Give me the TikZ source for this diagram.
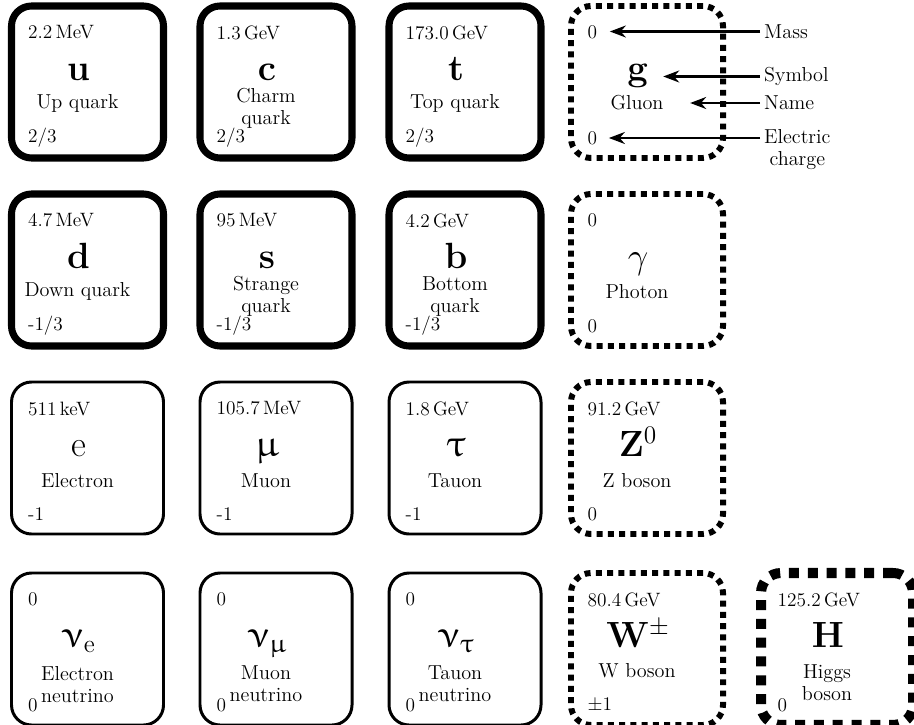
\documentclass[tikz,border=0pt]{standalone}
\usepackage{upgreek}
\usetikzlibrary{calc}
\usetikzlibrary{arrows.meta}

\begin{document}
\begin{tikzpicture}[thick] %% tikz
		\tikzstyle{quark}=[draw,rounded corners=0.4cm,line width=4pt,minimum size=3.04cm]
		\tikzstyle{lepton}=[draw,rounded corners=0.4cm,line width=1.7pt,minimum size=3.04cm]
		\tikzstyle{boson}=[draw,rounded corners=0.4cm,line width=3.4pt,dash pattern=on 3.4pt off 3pt,minimum size=3.04cm]
		\tikzstyle{higgs}=[draw,rounded corners=0.4cm,line width=5.7pt,dash pattern=on 5.7pt off 5pt,minimum size=3.04cm]
		\tikzstyle{mass}=[anchor=west,inner sep=0pt,font=\fontsize{11}{13}\selectfont]
		\tikzstyle{sym}=[anchor=base,inner sep=0pt,font=\fontsize{21.5}{26}\selectfont]
		\tikzstyle{pname}=[anchor=center,inner sep=0pt,align=center,font=\fontsize{11.5}{12.5}\selectfont]
		\tikzstyle{charge}=[anchor=west,inner sep=0pt,font=\fontsize{11}{13}\selectfont]
		\tikzstyle{note}=[anchor=west,inner sep=2pt,align=center,font=\fontsize{11.5}{12.5}\selectfont]
		\tikzstyle{pointer}=[-{Stealth[length=3.2mm,width=2.4mm]},line width=1.2pt]
		\useasboundingbox (0,0) rectangle (18.28,-14.5);
		%% particle boxes
		\foreach \n/\x/\y/\kind/\m/\s/\l/\ny/\q in {
			u/1.75/-1.64/quark/{2.2\,MeV}/{$\mathbf{u}$}/{Up quark}/-0.42/{2/3},
			c/5.52/-1.64/quark/{1.3\,GeV}/{$\mathbf{c}$}/{Charm\\quark}/-0.53/{2/3},
			t/9.30/-1.64/quark/{173.0\,GeV}/{$\mathbf{t}$}/{Top quark}/-0.42/{2/3},
			d/1.75/-5.40/quark/{4.7\,MeV}/{$\mathbf{d}$}/{Down quark}/-0.42/{-1/3},
			s/5.52/-5.40/quark/{95\,MeV}/{$\mathbf{s}$}/{Strange\\quark}/-0.53/{-1/3},
			b/9.30/-5.40/quark/{4.2\,GeV}/{$\mathbf{b}$}/{Bottom\\quark}/-0.53/{-1/3},
			e/1.75/-9.16/lepton/{511\,keV}/{$\mathrm{e}$}/{Electron}/-0.46/{-1},
			mu/5.52/-9.16/lepton/{105.7\,MeV}/{$\upmu$}/{Muon}/-0.46/{-1},
			tau/9.30/-9.16/lepton/{1.8\,GeV}/{$\uptau$}/{Tauon}/-0.46/{-1},
			ve/1.75/-12.98/lepton/{0}/{$\upnu_\mathrm{e}$}/{Electron\\neutrino}/-0.72/{0},
			vmu/5.52/-12.98/lepton/{0}/{$\upnu_\upmu$}/{Muon\\neutrino}/-0.7/{0},
			vtau/9.30/-12.98/lepton/{0}/{$\upnu_\uptau$}/{Tauon\\neutrino}/-0.7/{0},
			g/12.94/-1.64/boson/{0}/{$\mathbf{g}$}/{Gluon}/-0.42/{0},
			gamma/12.94/-5.40/boson/{0}/{$\gamma$}/{Photon}/-0.44/{0},
			Z/12.94/-9.16/boson/{91.2\,GeV}/{$\mathbf{Z}^0$}/{Z boson}/-0.46/{0},
			W/12.94/-12.98/boson/{80.4\,GeV}/{$\mathbf{W}^\pm$}/{W boson}/-0.44/{$\pm$1},
			H/16.74/-12.98/higgs/{125.2\,GeV}/{$\mathbf{H}$}/{Higgs\\boson}/-0.68/{0}}
		{
			\node[\kind] (\n) at (\x,\y) {};
			\node[mass] (\n-m) at ($(\n)+(-1.2,0.99)$) {\m};
			\node[sym] (\n-s) at ($(\n)+(-0.18,0.03)$) {\s};
			\node[pname] (\n-l) at ($(\n)+(-0.2,\ny)$) {\l};
			\node[charge] (\n-q) at ($(\n)+(-1.2,-1.12)$) {\q};
		}
		%% legend
		\node[note] (lmass) at (15.2,-0.63) {Mass};
		\node[note] (lsym) at (15.2,-1.53) {Symbol};
		\node[note] (lname) at (15.2,-2.06) {Name};
		\node[note,anchor=north west] (lcharge) at (15.2,-2.5) {Electric\\charge};
		\draw[pointer,shorten >=0.24cm] (lmass.west) -- (lmass.west -| g-m.east);
		\draw[pointer,shorten >=0.28cm] (lsym.west) -- (lsym.west -| g-s.east);
		\draw[pointer,shorten >=0.52cm] (lname.west) -- (lname.west -| g-l.east);
		\draw[pointer,shorten >=0.22cm] (lcharge.west |- g-q.east) -- (g-q.east);
	\end{tikzpicture}
\end{document}
